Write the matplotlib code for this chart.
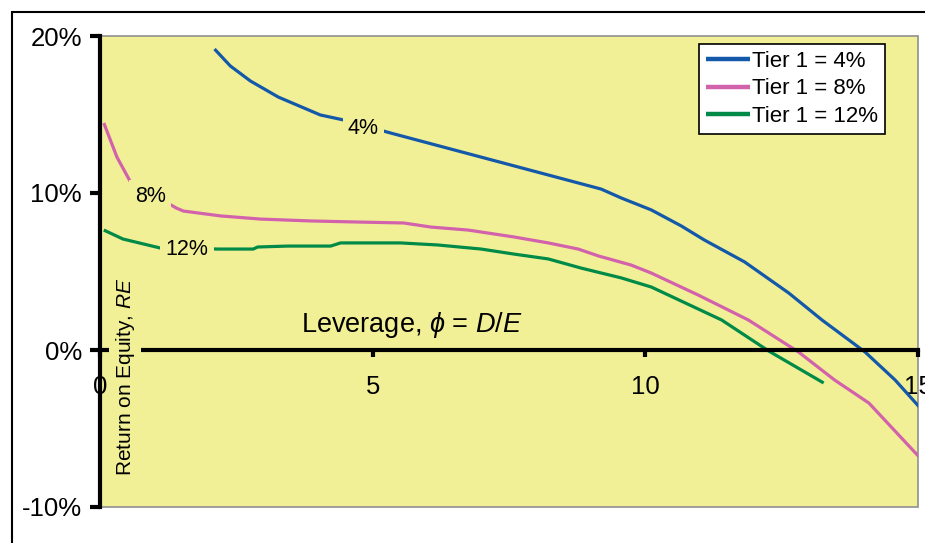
import matplotlib
matplotlib.use("Agg")
import matplotlib.pyplot as plt
from matplotlib.patches import Rectangle

plt.rcParams['font.family'] = ['Liberation Sans', 'DejaVu Sans']
plt.rcParams['mathtext.fontset'] = 'custom'
plt.rcParams['mathtext.rm'] = 'Liberation Sans'
plt.rcParams['mathtext.it'] = 'Liberation Sans:italic'

# data (leverage, RE in %)
x4 = [2.10, 2.39, 2.76, 3.27, 4.04, 4.47, 5.33, 9.19, 9.56, 10.11, 10.66,
      11.08, 11.82, 12.63, 13.24, 14.03, 14.58, 15.04]
re4 = [19.17, 18.09, 17.13, 16.11, 14.97, 14.65, 13.82, 10.25, 9.68, 8.92, 7.90,
       7.01, 5.61, 3.63, 1.91, -0.13, -1.91, -3.69]

x8 = [0.07, 0.31, 0.55, 1.40, 1.53, 2.21, 2.94, 3.86, 4.74, 5.57, 6.07, 6.75,
      7.59, 8.22, 8.77, 9.14, 9.74, 10.11, 10.97, 11.89, 12.81, 13.47, 14.10, 15.04]
re8 = [14.46, 12.29, 10.76, 9.04, 8.85, 8.54, 8.34, 8.22, 8.15, 8.09, 7.83, 7.64,
       7.20, 6.82, 6.43, 5.99, 5.41, 4.90, 3.50, 1.91, -0.13, -1.91, -3.38, -6.88]

x12 = [0.07, 0.42, 1.10, 2.17, 2.81, 2.89, 3.44, 4.23, 4.41, 5.51, 6.19, 6.99,
       7.59, 8.22, 8.82, 9.56, 10.11, 11.40, 12.26, 13.27]
re12 = [7.64, 7.07, 6.50, 6.43, 6.43, 6.56, 6.62, 6.62, 6.82, 6.82, 6.69, 6.43,
        6.11, 5.80, 5.22, 4.59, 4.01, 1.91, -0.06, -2.10]

series_labels = ['Tier 1 = 4%', 'Tier 1 = 8%', 'Tier 1 = 12%']
inline_labels = ['4%', '8%', '12%']
inline_pos = [(4.83, 14.14), (0.92, 9.8), (1.60, 6.37)]
yticks = [-10, 0, 10, 20]
ytick_labels = ['-10%', '0%', '10%', '20%']
xticks = [0, 5, 10, 15]

blue = '#1458aa'
pink = '#d262ac'
green = '#008a48'
bg = '#f2f096'

fig = plt.figure(figsize=(9.25, 5.43), dpi=100)
ax = fig.add_axes([100/925, 1-507/543, 818/925, 471/543])
ax.set_facecolor(bg)
ax.patch.set_edgecolor('#909090')
ax.patch.set_linewidth(1.2)

l1, = ax.plot(x4, re4, color=blue, lw=2.3, solid_capstyle='butt')
l2, = ax.plot(x8, re8, color=pink, lw=2.3, solid_capstyle='butt')
l3, = ax.plot(x12, re12, color=green, lw=2.3, solid_capstyle='butt')

ax.set_xlim(0, 15)
ax.set_ylim(-10, 20)

for s in ['top', 'right']:
    ax.spines[s].set_visible(False)
ax.spines['left'].set_linewidth(3)
ax.spines['bottom'].set_position(('data', 0))
ax.spines['bottom'].set_linewidth(3)

ax.set_yticks(yticks)
ax.set_yticklabels(ytick_labels)
ax.set_xticks(xticks)
ax.set_xticklabels([str(t) for t in xticks])
ax.tick_params(axis='y', direction='out', length=7, width=3, pad=6, labelsize=18.5)
ax.tick_params(axis='x', direction='out', length=5, width=3, pad=13, labelsize=18.5)

# inline labels on the curves
for txt, (px, py) in zip(inline_labels, inline_pos):
    ax.text(px, py, txt, fontsize=15.5, ha='center', va='center',
            bbox=dict(boxstyle='square,pad=0.25', fc=bg, ec='none'))

ax.text(0.46, -1.72, r'Return on Equity, $RE$', rotation=90, fontsize=15,
        ha='center', va='center',
        bbox=dict(boxstyle='square,pad=0.2', fc=bg, ec='none'))
ax.text(5.72, 1.59, r'Leverage, $\phi$ = $D$/$E$', fontsize=19.5,
        ha='center', va='center')

leg = ax.legend([l1, l2, l3], series_labels, loc='upper right',
                bbox_to_anchor=(885/925, 1-44/543), bbox_transform=fig.transFigure,
                borderaxespad=0, fontsize=16, frameon=True, fancybox=False,
                handlelength=2.0, handletextpad=0.1, labelspacing=0.3,
                borderpad=0.3)
leg.get_frame().set_edgecolor('black')
leg.get_frame().set_linewidth(1.2)
leg.get_frame().set_facecolor('white')
leg.get_frame().set_alpha(1)
for h in leg.get_lines():
    h.set_linewidth(3.2)

# outer frame (only top and left edges fall inside the picture)
fig.add_artist(Rectangle((12/925, -0.5), 2, 1.5-12/543, transform=fig.transFigure,
                         fill=False, ec='black', lw=1.5))

fig.savefig('out.png', dpi=100)
